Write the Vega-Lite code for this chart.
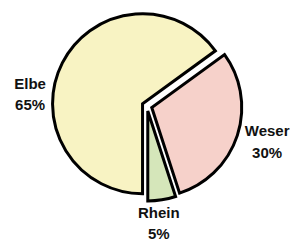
{
  "$schema": "https://vega.github.io/schema/vega-lite/v6.json",
  "autosize": "none",
  "width": 290,
  "height": 212,
  "padding": {"left": 2, "top": 0, "right": 0, "bottom": 29},
  "view": {"stroke": null},
  "data": {"values": [
    {"river": "Elbe", "pct": 65},
    {"river": "Weser", "pct": 30},
    {"river": "Rhein", "pct": 5}
  ]},
  "transform": [{"calculate": "datum.river + '\\n' + datum.pct + '%'", "as": "label"}],
  "encoding": {
    "theta": {"field": "pct", "type": "quantitative", "stack": true, "scale": {"range": [3.14159265, 9.42477796]}},
    "order": {"field": "pct", "sort": "descending"}
  },
  "layer": [
    {
      "mark": {
        "type": "arc",
        "radius": 90,
        "stroke": "#000000",
        "strokeWidth": 3,
        "strokeJoin": "miter",
        "xOffset": {"expr": "5*sin(PI*(1+(datum.pct_start+datum.pct_end)/100))"},
        "yOffset": {"expr": "-5*cos(PI*(1+(datum.pct_start+datum.pct_end)/100))"}
      },
      "encoding": {
        "color": {
          "field": "river",
          "type": "nominal",
          "scale": {"domain": ["Elbe", "Weser", "Rhein"], "range": ["#F8F3C3", "#F6D1CA", "#D5E6BA"]},
          "legend": null
        }
      }
    },
    {
      "mark": {
        "type": "text",
        "radius": 120,
        "font": "Liberation Sans",
        "fontWeight": "bold",
        "fontSize": 15,
        "lineBreak": "\n",
        "lineHeight": 21.5,
        "fill": "#111111",
        "align": "center",
        "baseline": "middle",
        "dx": {"expr": "datum.river=='Elbe' ? -10 : datum.river=='Weser' ? 6 : -7"},
        "dy": {"expr": "datum.river=='Elbe' ? 32 : datum.river=='Weser' ? -12 : -12"}
      },
      "encoding": {
        "text": {"field": "label", "type": "nominal"}
      }
    }
  ]
}
